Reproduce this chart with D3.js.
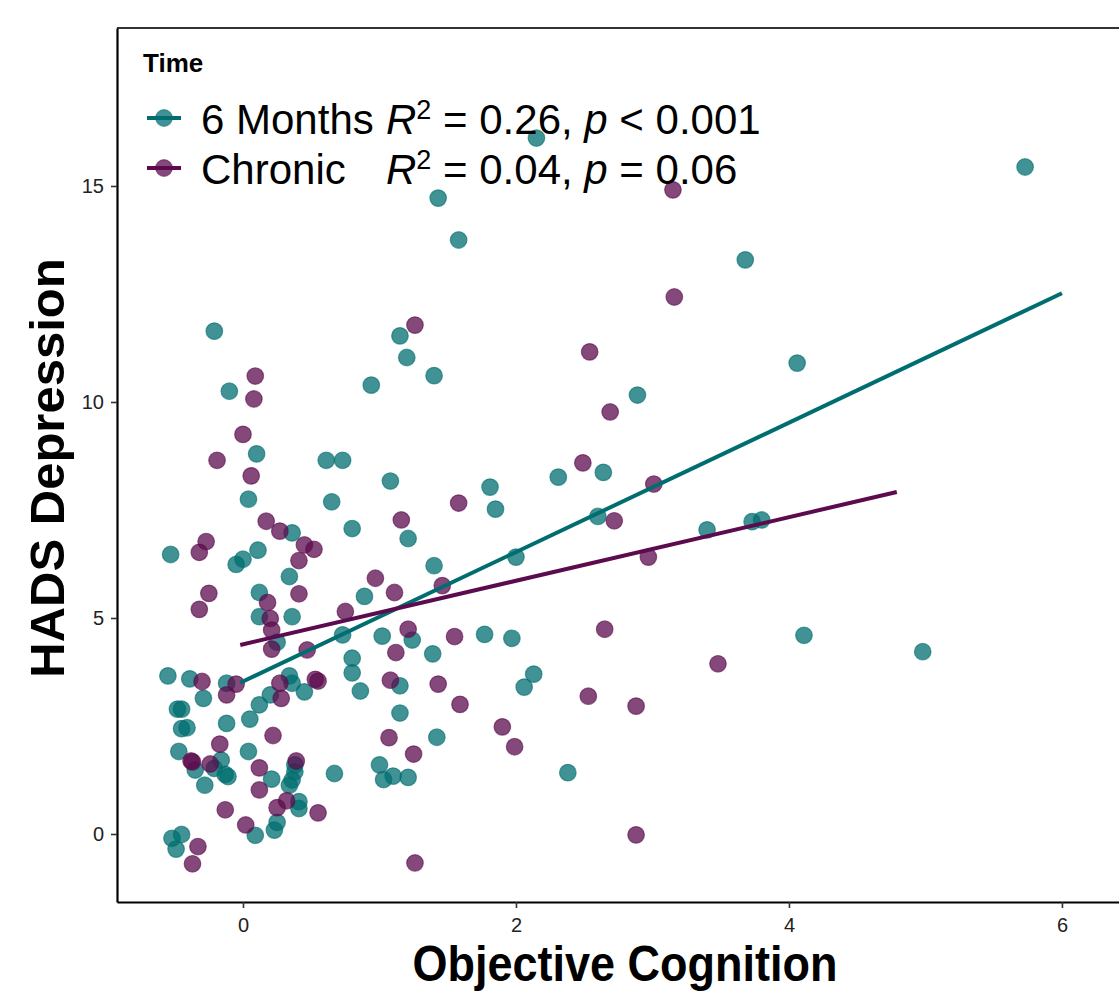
<!DOCTYPE html>
<html>
<head>
<meta charset="utf-8">
<script src="https://cdn.jsdelivr.net/npm/d3@7"></script>
<style>
  body { margin: 0; background: #fff; }
  svg { display: block; font-family: "Liberation Sans", Arial, sans-serif; }
</style>
</head>
<body>
<svg id="chart" width="1119" height="992"></svg>
<script>
// values
sixX = [5.73,2.15,1.43,1.58,3.68,4.06,-0.21,1.15,1.20,1.40, 0.94,-0.10,2.89,0.10,0.61,0.73,1.08,2.31,2.64,1.81,
        1.85,0.04,0.65,0.80,0.36,2.60,3.40,3.73,3.80,1.21, -0.53,0.11,0.00,-0.05,1.40,2.00,0.34,0.12,0.12,0.36,
        0.89,0.73,1.02,1.24,1.77,1.97,4.11,4.98,1.39,0.25, 0.80,0.80,0.86,1.15,1.15,1.42,2.06,2.13,2.38,-0.55,
        -0.39,-0.29,-0.12,-0.48,-0.45,0.34,0.36,0.45,0.20,0.12, 0.05,-0.12,-0.45,-0.41,-0.47,0.04,-0.35,-0.28,-0.16,-0.21,
        -0.13,-0.11,0.21,0.38,0.38,0.36,0.34,0.41,0.41,0.67, 1.00,1.03,1.10,1.21,0.25,0.23,0.09,-0.45,-0.52,-0.49]
sixY = [15.44,16.11,14.72,13.75,13.29,10.90,11.64,11.53,11.03,10.61, 10.39,10.25,10.16,8.80,8.65,8.65,8.17,8.26,8.37,8.03,
        7.52,7.75,7.69,7.07,6.97,7.35,7.04,7.23,7.27,6.84, 6.47,6.57,6.36,6.24,6.21,6.41,5.96,5.59,5.03,5.03,
        5.50,4.61,4.58,4.49,4.62,4.53,4.60,4.22,4.17,4.44, 4.07,3.73,3.31,3.43,2.80,2.24,3.40,3.70,1.42,3.66,
        3.59,3.14,3.49,2.89,2.89,3.66,3.49,3.29,3.22,2.99, 2.66,2.56,2.44,2.46,1.91,1.91,1.48,1.13,1.71,1.52,
        1.38,1.33,1.27,1.60,1.44,1.25,1.13,0.75,0.59,1.40, 1.60,1.26,1.34,1.31,0.27,0.09,-0.03,-0.01,-0.10,-0.35]

chronX = [3.15,3.16,2.54,1.26,2.69,2.49,3.01,2.72,1.58,2.97, 1.16,0.09,0.08,0.00,-0.19,0.06,0.17,0.27,-0.27,-0.32,
          0.45,0.52,0.41,0.97,1.11,1.46,-0.25,-0.32,0.41,0.18, 0.20,0.21,0.21,0.75,0.47,1.21,1.12,1.55,2.65,3.48,
          -0.30,-0.05,-0.12,0.27,0.28,0.53,0.55,1.08,1.43,1.59, 2.53,2.88,1.90,1.99,0.22,1.07,1.25,-0.17,-0.38,-0.37,
          -0.24,0.12,0.39,0.12,-0.13,0.02,0.55,0.25,0.32,-0.33, -0.37,1.26,2.88]
chronY = [14.91,12.43,11.16,11.78,9.77,8.59,8.10,7.25,7.66,6.41, 7.27,10.60,10.07,9.25,8.65,8.29,7.24,7.01,6.77,6.52,
          6.69,6.59,6.33,5.92,5.59,5.75,5.57,5.20,5.56,5.36, 4.99,4.72,4.28,5.15,4.26,4.74,4.20,4.57,4.74,3.94,
          3.53,3.47,3.22,3.49,3.14,3.58,3.54,3.56,3.47,3.00, 3.19,2.96,2.48,2.02,2.28,2.23,1.85,2.08,1.69,1.67,
          1.62,1.53,1.69,1.02,0.56,0.21,0.49,0.61,0.77,-0.29, -0.69,-0.67,-0.02]

groups = ["6 Months", "Chronic"]
groupColors = ["#006e70", "#5c0b4e"]
statLabels = [["0.26", "< 0.001"], ["0.04", "= 0.06"]]
// fitted lines: intercept, slope, x-range
fitIntercept = [3.53, 4.39]
fitSlope = [1.498, 0.736]
fitFrom = [-0.02, -0.02]
fitTo = [6.0, 4.79]

xTicks = [0, 2, 4, 6]
yTicks = [0, 5, 10, 15]

svg = d3.select("#chart")

xScale = d3.scaleLinear().domain([-0.923, 6.418]).range([117, 1119])
yScale = d3.scaleLinear().domain([-1.574, 18.657]).range([902, 28])

// top border
svg.append("line")
    .attr("x1", 117).attr("x2", 1119).attr("y1", 28).attr("y2", 28)
    .attr("stroke", "#333").attr("stroke-width", 2.2)

// points
series = [d3.zip(sixX, sixY), d3.zip(chronX, chronY)]
series.forEach(function(pts, i){
    svg.append("g").selectAll("circle")
        .data(pts)
        .join("circle")
        .attr("cx", d => xScale(d[0]))
        .attr("cy", d => yScale(d[1]))
        .attr("r", 8.3)
        .attr("fill", groupColors[i]).attr("fill-opacity", 0.75)
        .attr("stroke", groupColors[i]).attr("stroke-opacity", 0.6).attr("stroke-width", 1.2)
})

// regression lines
groups.forEach(function(g, i){
    svg.append("line")
        .attr("x1", xScale(fitFrom[i])).attr("y1", yScale(fitIntercept[i] + fitSlope[i]*fitFrom[i]))
        .attr("x2", xScale(fitTo[i])).attr("y2", yScale(fitIntercept[i] + fitSlope[i]*fitTo[i]))
        .attr("stroke", groupColors[i]).attr("stroke-width", 4)
})

// axes
xAxis = svg.append("g")
    .attr("transform", "translate(0,902)")
    .call(d3.axisBottom(xScale).tickValues(xTicks).tickSize(6).tickPadding(10).tickSizeOuter(0))
yAxis = svg.append("g")
    .attr("transform", "translate(117,0)")
    .call(d3.axisLeft(yScale).tickValues(yTicks).tickSize(6).tickPadding(7).tickSizeOuter(0))
;[xAxis, yAxis].forEach(function(a){
    a.select(".domain").attr("stroke", "#000").attr("stroke-width", 2.2)
    a.selectAll(".tick line").attr("stroke", "#333").attr("stroke-width", 1.6)
    a.selectAll(".tick text").attr("fill", "#222").attr("font-size", 20)
        .attr("font-family", "Liberation Sans, Arial, sans-serif")
})

// axis titles
svg.append("text")
    .attr("transform", "translate(625,981) scale(0.9,1)")
    .attr("text-anchor", "middle")
    .attr("font-weight", "bold").attr("font-size", 50)
    .text("Objective Cognition")
svg.append("text")
    .attr("transform", "translate(64,468) rotate(-90)")
    .attr("text-anchor", "middle")
    .attr("font-weight", "bold").attr("font-size", 49)
    .text("HADS Depression")

// legend
legend = svg.append("g")
legend.append("text")
    .attr("x", 143).attr("y", 72)
    .attr("font-weight", "bold").attr("font-size", 26)
    .text("Time")
groups.forEach(function(g, i){
    ky = 118 + i*50
    legend.append("line")
        .attr("x1", 147).attr("x2", 181).attr("y1", ky).attr("y2", ky)
        .attr("stroke", groupColors[i]).attr("stroke-width", 4)
    legend.append("circle")
        .attr("cx", 164).attr("cy", ky).attr("r", 8.3)
        .attr("fill", groupColors[i]).attr("fill-opacity", 0.75)
        .attr("stroke", groupColors[i]).attr("stroke-opacity", 0.6).attr("stroke-width", 1.2)
    legend.append("text")
        .attr("x", 201).attr("y", ky + 16)
        .attr("font-size", 42)
        .text(g)
    t = legend.append("text")
        .attr("x", 386).attr("y", ky + 16)
        .attr("font-size", 42)
    t.append("tspan").attr("font-style", "italic").text("R")
    t.append("tspan").attr("font-size", 27).attr("dy", -15).text("2")
    t.append("tspan").attr("dy", 15).text(" = " + statLabels[i][0] + ", ")
    t.append("tspan").attr("font-style", "italic").text("p")
    t.append("tspan").text(" " + statLabels[i][1])
})
</script>
</body>
</html>
